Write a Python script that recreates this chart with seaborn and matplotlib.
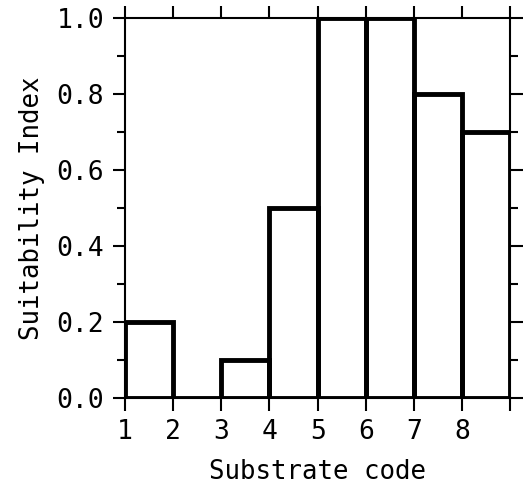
import matplotlib
matplotlib.use("Agg")
import matplotlib.pyplot as plt
import seaborn as sns
import numpy as np
from matplotlib.ticker import MultipleLocator

sns.set_style("ticks")
plt.rcParams['font.family'] = ['DejaVu Sans Mono', 'DejaVu Sans']

substrate_codes = [1, 2, 3, 4, 5, 6, 7, 8]
suitability = [0.2, 0.0, 0.1, 0.5, 1.0, 1.0, 0.8, 0.7]
bin_edges = [1, 2, 3, 4, 5, 6, 7, 8, 9]
x_tick_labels = ["1", "2", "3", "4", "5", "6", "7", "8"]
y_ticks = [0.0, 0.2, 0.4, 0.6, 0.8, 1.0]

fig, ax = plt.subplots(figsize=(5.25, 4.88), dpi=100)
fig.subplots_adjust(left=0.238, right=0.972, top=0.963, bottom=0.184)

centers = [c + 0.5 for c in substrate_codes]
sns.histplot(x=centers, weights=suitability, bins=bin_edges, fill=False,
             element="bars", color="black", linewidth=3.5, ax=ax)

ax.set_xlim(1, 9)
ax.set_ylim(0, 1.0)
ax.set_xticks(substrate_codes + [9])
ax.set_xticklabels(x_tick_labels + [""])
ax.set_yticks(y_ticks)
ax.set_yticklabels([f"{v:.1f}" for v in y_ticks])
ax.yaxis.set_minor_locator(MultipleLocator(0.1))

for s in ax.spines.values():
    s.set_visible(True)
    s.set_linewidth(1.5)
    s.set_color("black")

ax.tick_params(axis="both", which="both", direction="out", top=True, right=True,
               width=1.5, color="black", labelsize=19, labelcolor="black")
ax.tick_params(axis="both", which="major", length=9, pad=6)
ax.tick_params(axis="y", which="minor", length=6)

ax.set_xlabel("Substrate code", fontsize=18.5, labelpad=10, color="black")
ax.set_ylabel("Suitability Index", fontsize=18.5, labelpad=8, color="black")

fig.savefig("out.png", dpi=100)
